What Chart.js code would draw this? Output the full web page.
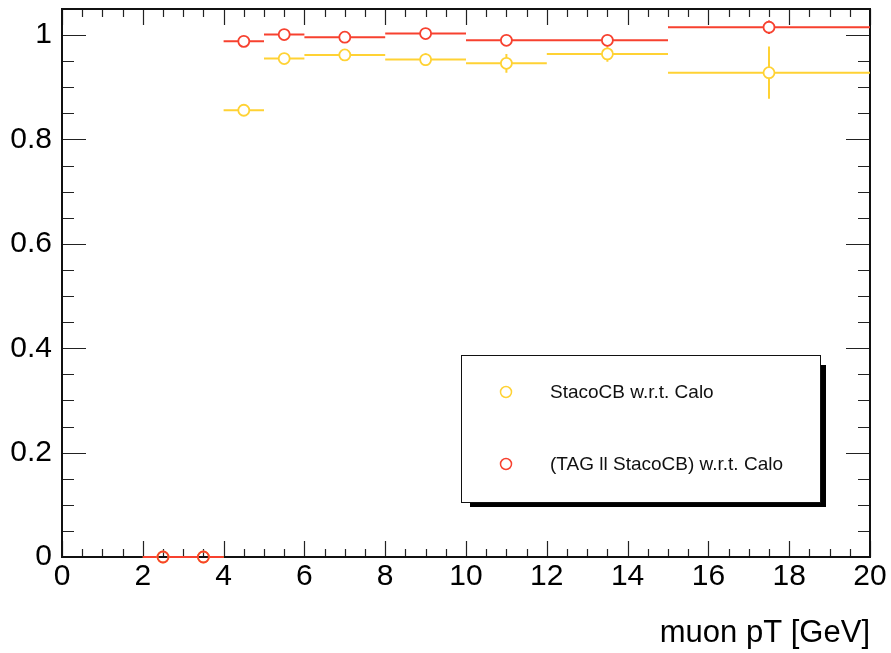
<!DOCTYPE html>
<html>
<head>
<meta charset="utf-8">
<title>muon efficiency vs pT</title>
<script src="https://cdn.jsdelivr.net/npm/chart.js@4/dist/chart.umd.min.js"></script>
<style>
  html, body { margin: 0; padding: 0; background: #fff; }
</style>
</head>
<body>
<canvas id="myChart" width="891" height="653"></canvas>
<script>
// bins in muon pT [GeV]
const binLow    = [2, 3, 4, 5, 6, 8, 10, 12, 15];
const binHigh   = [3, 4, 5, 6, 8, 10, 12, 15, 20];
const binCenter = [2.5, 3.5, 4.5, 5.5, 7, 9, 11, 13.5, 17.5];

// StacoCB w.r.t. Calo
const stacoEff = [0, 0, 0.856, 0.955, 0.962, 0.953, 0.946, 0.964, 0.928];
const stacoErr = [0, 0, 0.004, 0.005, 0.004, 0.012, 0.018, 0.015, 0.050];

// (TAG || StacoCB) w.r.t. Calo
const tagEff = [0, 0, 0.988, 1.001, 0.996, 1.003, 0.990, 0.990, 1.015];
const tagErr = [0, 0, 0.003, 0.003, 0.002, 0.004, 0.006, 0.011, 0.013];

const xTicks = [0, 2, 4, 6, 8, 10, 12, 14, 16, 18, 20];
const yTicks = [0, 0.2, 0.4, 0.6, 0.8, 1];

const [YELLOW, RED] = ['#ffd234', '#f7412f'];
const FONT = "'Liberation Sans', Arial, Helvetica, sans-serif";
const MARKER_R = 5.5;

const toPoints = (vals) => binCenter.map((c, i) => ({ x: c, y: vals[i] }));

const data = {
    datasets: [
        {
            label: 'StacoCB w.r.t. Calo',
            data: toPoints(stacoEff),
            err: stacoErr,
            borderColor: YELLOW,
            pointBorderColor: YELLOW,
            pointBackgroundColor: 'rgba(0,0,0,0)',
            pointRadius: MARKER_R,
            pointBorderWidth: 1.8,
            showLine: false,
            clip: false,
            order: 1,
        },
        {
            label: '(TAG || StacoCB) w.r.t. Calo',
            legendText: '(TAG ll StacoCB) w.r.t. Calo',
            data: toPoints(tagEff),
            err: tagErr,
            borderColor: RED,
            pointBorderColor: RED,
            pointBackgroundColor: 'rgba(0,0,0,0)',
            pointRadius: MARKER_R,
            pointBorderWidth: 1.8,
            showLine: false,
            clip: false,
            order: 0,
        },
    ]
};

// ROOT-like frame with inner ticks, error bars and the shadowed legend box
const rootStyle = {
    id: 'rootStyle',
    beforeDatasetsDraw(chart) {
        const { ctx, chartArea: a, scales: { x, y } } = chart;
        ctx.save();

        // minor / major ticks, inside the frame on all four sides
        ctx.strokeStyle = '#222';
        ctx.lineWidth = 1.2;
        ctx.beginPath();
        for (let v = 0; v <= 20.001; v += 0.5) {
            const px = Math.round(x.getPixelForValue(v)) + 0.5;
            const len = Math.abs(v % 2) < 1e-6 ? 16 : 8;
            ctx.moveTo(px, a.bottom); ctx.lineTo(px, a.bottom - len);
            ctx.moveTo(px, a.top); ctx.lineTo(px, a.top + len);
        }
        for (let k = 0; k <= 21; k++) {
            const v = k * 0.05;
            const py = Math.round(y.getPixelForValue(v)) + 0.5;
            const len = k % 4 === 0 ? 24 : 12;
            ctx.moveTo(a.left, py); ctx.lineTo(a.left + len, py);
            ctx.moveTo(a.right, py); ctx.lineTo(a.right - len, py);
        }
        ctx.stroke();

        ctx.lineWidth = 2;
        ctx.strokeStyle = '#111';
        ctx.strokeRect(a.left, a.top, a.right - a.left, a.bottom - a.top);

        // error bars: bin width horizontally, stat error vertically
        chart.data.datasets.forEach((ds) => {
            ctx.strokeStyle = ds.borderColor;
            ctx.lineWidth = 2;
            ctx.beginPath();
            ds.data.forEach((p, i) => {
                const cx = x.getPixelForValue(p.x);
                const cy = y.getPixelForValue(p.y);
                const xl = x.getPixelForValue(binLow[i]);
                const xh = x.getPixelForValue(binHigh[i]);
                ctx.moveTo(xl, cy); ctx.lineTo(cx - MARKER_R, cy);
                ctx.moveTo(cx + MARKER_R, cy); ctx.lineTo(xh, cy);
                const yu = y.getPixelForValue(p.y + ds.err[i]);
                const yd = y.getPixelForValue(p.y - ds.err[i]);
                if (cy - yu > MARKER_R) {
                    ctx.moveTo(cx, cy - MARKER_R); ctx.lineTo(cx, yu);
                    ctx.moveTo(cx, cy + MARKER_R); ctx.lineTo(cx, yd);
                }
            });
            ctx.stroke();
        });
        ctx.restore();
    },
    afterDraw(chart) {
        const { ctx } = chart;
        const bx = 461, by = 355, bw = 359, bh = 147;
        ctx.save();
        // drop shadow, offset down-right
        ctx.fillStyle = '#000';
        ctx.fillRect(bx + 9, by + 10, bw + 6 - 9, bh + 5 - 10);
        ctx.fillStyle = '#fff';
        ctx.fillRect(bx, by, bw, bh);
        ctx.strokeStyle = '#111';
        ctx.lineWidth = 1;
        ctx.strokeRect(bx + 0.5, by + 0.5, bw, bh);

        ctx.font = '19px ' + FONT;
        ctx.textBaseline = 'middle';
        ctx.textAlign = 'left';
        chart.data.datasets.forEach((ds, i) => {
            const ry = by + 37 + i * 72;
            ctx.strokeStyle = ds.borderColor;
            ctx.lineWidth = 1.5;
            ctx.beginPath();
            ctx.arc(bx + 45, ry, 5.5, 0, Math.PI * 2);
            ctx.stroke();
            ctx.fillStyle = '#111';
            ctx.fillText(ds.legendText || ds.label, bx + 89, ry + 1);
        });
        ctx.restore();
    }
};

const config = {
    type: 'scatter',
    data: data,
    options: {
        responsive: false,
        animation: false,
        events: [],
        layout: {
            padding: { top: 9, right: 21, left: 0, bottom: 0 },
        },
        scales: {
            x: {
                type: 'linear',
                min: 0,
                max: 20,
                afterBuildTicks: (scale) => { scale.ticks = xTicks.map(v => ({ value: v })); },
                afterFit: (scale) => {
                    scale.height = 96;
                    scale.paddingLeft = 0; scale.paddingRight = 0;
                },
                grid: { display: false, drawTicks: false },
                border: { display: false },
                ticks: {
                    color: '#000',
                    padding: 2,
                    maxRotation: 0,
                    autoSkip: false,
                    font: { family: FONT, size: 30 },
                },
                title: {
                    display: true,
                    text: 'muon pT [GeV]',
                    align: 'end',
                    color: '#000',
                    padding: { top: 0, bottom: 1 },
                    font: { family: FONT, size: 31 },
                },
            },
            y: {
                type: 'linear',
                min: 0,
                max: 1.05,
                afterBuildTicks: (scale) => { scale.ticks = yTicks.map(v => ({ value: v })); },
                afterFit: (scale) => {
                    scale.width = 62;
                    scale.paddingTop = 0; scale.paddingBottom = 0;
                },
                grid: { display: false, drawTicks: false },
                border: { display: false },
                ticks: {
                    color: '#000',
                    padding: 10,
                    autoSkip: false,
                    font: { family: FONT, size: 30 },
                    callback: (v) => String(+v.toFixed(2)),
                },
            },
        },
        plugins: {
            legend: { display: false },
            tooltip: { enabled: false },
        }
    },
    plugins: [rootStyle],
};

const ctx = document.getElementById('myChart').getContext('2d');
new Chart(ctx, config);
</script>
</body>
</html>
